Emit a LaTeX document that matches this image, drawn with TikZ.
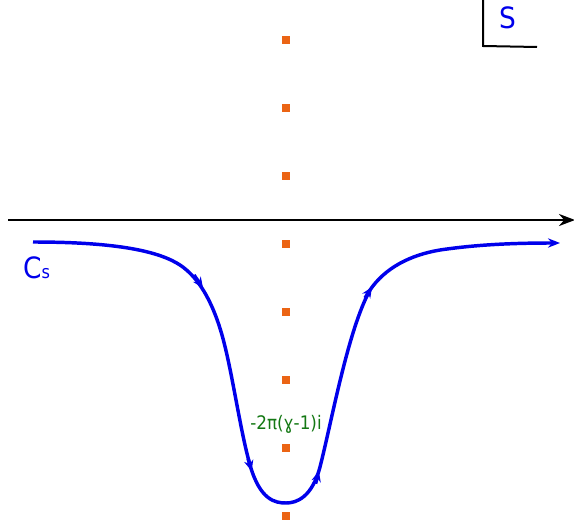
\documentclass[tikz,border=0pt]{standalone}
\usepackage{fontspec}
\setmainfont{DejaVu Sans Condensed}
\usetikzlibrary{arrows.meta}
\definecolor{dotorange}{RGB}{235,100,20}
\definecolor{labgreen}{RGB}{20,120,20}
\definecolor{curveblue}{RGB}{0,0,235}
\tikzset{
  pole/.style={fill=dotorange,inner sep=0pt,minimum size=6pt,draw=none},
  axisline/.style={line width=1.9pt,-{Stealth[length=12pt,width=9pt]}},
  contour/.style={line width=2.6pt,curveblue,-{Stealth[length=9pt,width=7pt]}},
  midtip/.style={line width=2.6pt,curveblue,-{Stealth[length=8pt,width=7pt]}}
}
\begin{document}
\begin{tikzpicture}[x=0.75pt,y=-0.75pt]
\useasboundingbox (0,0) rectangle (574,528);
% S box
\coordinate (s1) at (483,0);
\coordinate (s2) at (483,46);
\coordinate (s3) at (537,47);
\draw[line width=1.5pt] (s1) -- (s2) -- (s3);
\node[curveblue,font=\fontsize{22}{24}\selectfont] (S) at (508,18) {S};
% axis
\coordinate (a0) at (8,220);
\coordinate (a1) at (575,220);
\draw[axisline] (a0) -- (a1);
% poles
\foreach \i/\y in {1/40,2/108,3/176,4/244,5/312,6/380,7/448,8/516}
  \node[pole] (p\i) at (286,\y) {};
% contour
\coordinate (c0) at (33,242);
\coordinate (c1) at (180,265);
\coordinate (c2) at (222,335);
\coordinate (c3) at (250,465);
\coordinate (c4) at (286,503);
\coordinate (c5) at (320,467);
\coordinate (c6) at (370,290);
\coordinate (c7) at (440,250);
\coordinate (c8) at (560,243);
\draw[contour] (c0) .. controls (120,242) and (160,252) .. (c1)
  .. controls (198,277) and (212,300) .. (c2)
  .. controls (232,370) and (240,430) .. (c3)
  .. controls (260,500) and (275,503) .. (c4)
  .. controls (297,503) and (312,497) .. (c5)
  .. controls (332,420) and (348,330) .. (c6)
  .. controls (385,268) and (410,255) .. (c7)
  .. controls (480,244) and (520,243) .. (c8);
% mid arrowheads
\coordinate (m1a) at (194,275); \coordinate (m1b) at (203,288);
\coordinate (m2a) at (248.1,458.5); \coordinate (m2b) at (251.6,471);
\coordinate (m3a) at (315.6,483.6); \coordinate (m3b) at (318.9,471);
\coordinate (m4a) at (365,298); \coordinate (m4b) at (372,287);
\draw[midtip] (m1a) -- (m1b);
\draw[midtip] (m2a) -- (m2b);
\draw[midtip] (m3a) -- (m3b);
\draw[midtip] (m4a) -- (m4b);
% labels
\node[curveblue,anchor=base west,inner sep=0pt] (Cs) at (23,278)
  {\fontsize{22}{24}\selectfont C\fontsize{13.5}{15}\selectfont s};
\node[labgreen,font=\fontsize{14}{16}\selectfont] (lab) at (286,424) {-2π(ɣ-1)i};
\end{tikzpicture}
\end{document}
